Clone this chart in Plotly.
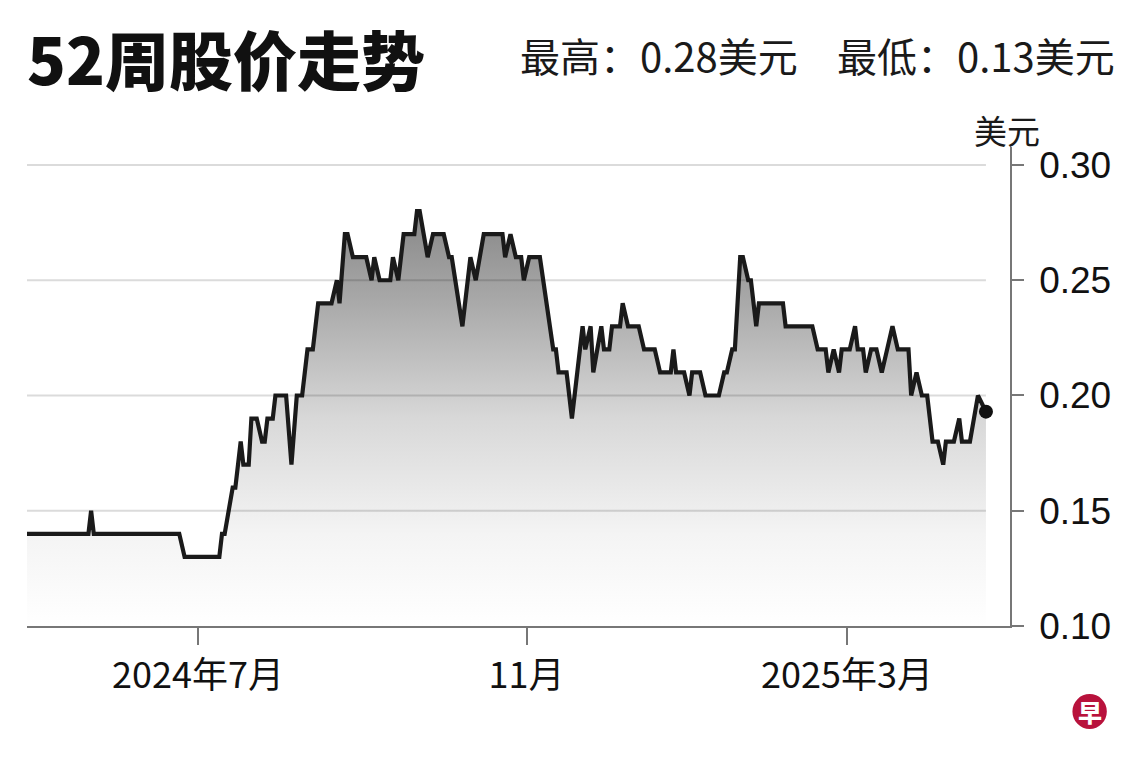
import plotly.graph_objects as go

# ---- data ----
dates = [
    "2024-04-28", "2024-05-21", "2024-05-22", "2024-05-23", "2024-06-24", "2024-06-26",
    "2024-07-09", "2024-07-10", "2024-07-11", "2024-07-14", "2024-07-15", "2024-07-17",
    "2024-07-18", "2024-07-20", "2024-07-21", "2024-07-23", "2024-07-25", "2024-07-26",
    "2024-07-27", "2024-07-29", "2024-07-30", "2024-08-03", "2024-08-05", "2024-08-07",
    "2024-08-09", "2024-08-11", "2024-08-13", "2024-08-15", "2024-08-20", "2024-08-22",
    "2024-08-23", "2024-08-25", "2024-08-26", "2024-08-28", "2024-09-02", "2024-09-04",
    "2024-09-05", "2024-09-07", "2024-09-11", "2024-09-12", "2024-09-14", "2024-09-16",
    "2024-09-20", "2024-09-21", "2024-09-22", "2024-09-25", "2024-09-27", "2024-10-01",
    "2024-10-03", "2024-10-04", "2024-10-08", "2024-10-11", "2024-10-13", "2024-10-16",
    "2024-10-23", "2024-10-24", "2024-10-26", "2024-10-28", "2024-10-30", "2024-10-31",
    "2024-11-02", "2024-11-06", "2024-11-11", "2024-11-12", "2024-11-13", "2024-11-16",
    "2024-11-18", "2024-11-22", "2024-11-23", "2024-11-25", "2024-11-26", "2024-11-29",
    "2024-11-30", "2024-12-02", "2024-12-03", "2024-12-06", "2024-12-07", "2024-12-09",
    "2024-12-13", "2024-12-15", "2024-12-19", "2024-12-21", "2024-12-25", "2024-12-26",
    "2024-12-27", "2024-12-30", "2025-01-01", "2025-01-02", "2025-01-05", "2025-01-07",
    "2025-01-12", "2025-01-14", "2025-01-15", "2025-01-17", "2025-01-18", "2025-01-20",
    "2025-01-21", "2025-01-23", "2025-01-24", "2025-01-26", "2025-01-27", "2025-02-05",
    "2025-02-06", "2025-02-16", "2025-02-18", "2025-02-21", "2025-02-22", "2025-02-24",
    "2025-02-26", "2025-02-27", "2025-03-02", "2025-03-04", "2025-03-05", "2025-03-07",
    "2025-03-08", "2025-03-10", "2025-03-12", "2025-03-14", "2025-03-16", "2025-03-18",
    "2025-03-20", "2025-03-24", "2025-03-25", "2025-03-27", "2025-03-29", "2025-03-31",
    "2025-04-02", "2025-04-04", "2025-04-06", "2025-04-07", "2025-04-10", "2025-04-12",
    "2025-04-13", "2025-04-16", "2025-04-19", "2025-04-22",
]
prices = [
    0.14, 0.14, 0.15, 0.14, 0.14, 0.13,
    0.13, 0.14, 0.14, 0.16, 0.16, 0.18,
    0.17, 0.17, 0.19, 0.19, 0.18, 0.18,
    0.19, 0.19, 0.20, 0.20, 0.17, 0.20,
    0.20, 0.22, 0.22, 0.24, 0.24, 0.25,
    0.24, 0.27, 0.27, 0.26, 0.26, 0.25,
    0.26, 0.25, 0.25, 0.26, 0.25, 0.27,
    0.27, 0.28, 0.28, 0.26, 0.27, 0.27,
    0.26, 0.26, 0.23, 0.26, 0.25, 0.27,
    0.27, 0.26, 0.27, 0.26, 0.26, 0.25,
    0.26, 0.26, 0.22, 0.22, 0.21, 0.21,
    0.19, 0.23, 0.22, 0.23, 0.21, 0.23,
    0.22, 0.22, 0.23, 0.23, 0.24, 0.23,
    0.23, 0.22, 0.22, 0.21, 0.21, 0.22,
    0.21, 0.21, 0.20, 0.21, 0.21, 0.20,
    0.20, 0.21, 0.21, 0.22, 0.22, 0.26,
    0.26, 0.25, 0.25, 0.23, 0.24, 0.24,
    0.23, 0.23, 0.22, 0.22, 0.21, 0.22,
    0.21, 0.22, 0.22, 0.23, 0.22, 0.22,
    0.21, 0.22, 0.22, 0.21, 0.22, 0.23,
    0.22, 0.22, 0.20, 0.21, 0.20, 0.20,
    0.18, 0.18, 0.17, 0.18, 0.18, 0.19,
    0.18, 0.18, 0.20, 0.193,
]

title_text = "52周股价走势"
high_text = "最高：0.28美元"
low_text = "最低：0.13美元"
unit_text = "美元"

x_tick_vals = ["2024-07-01", "2024-11-01", "2025-03-01"]
x_tick_text = ["2024年7月", "11月", "2025年3月"]
y_tick_vals = [0.10, 0.15, 0.20, 0.25, 0.30]
y_tick_text = ["0.10", "0.15", "0.20", "0.25", "0.30"]
grid_vals = [0.15, 0.20, 0.25, 0.30]

x_range = ["2024-04-28", "2025-05-01"]
y_range = [0.10, 0.3078]

CJK = "Noto Sans CJK SC"
NUM = "Liberation Sans, Arial, Noto Sans CJK SC"

fig = go.Figure()

fig.add_trace(go.Scatter(
    x=dates, y=prices, mode="lines",
    line=dict(color="#1a1a1a", width=4.2, shape="linear"),
    fill="tozeroy",
    fillgradient=dict(
        type="vertical",
        start=0.10, stop=0.28,
        colorscale=[
            [0.0, "#ffffff"],
            [0.22, "#f4f4f4"],
            [0.50, "#d8d8d8"],
            [0.78, "#a9a9a9"],
            [1.0, "#878787"],
        ],
    ),
    hoverinfo="skip", showlegend=False,
))

fig.add_trace(go.Scatter(
    x=[dates[-1]], y=[prices[-1]], mode="markers",
    marker=dict(color="#111111", size=14),
    hoverinfo="skip", showlegend=False,
))

shapes = []
for g in grid_vals:
    shapes.append(dict(
        type="line", xref="x", yref="y",
        x0=x_range[0], x1=dates[-1], y0=g, y1=g,
        line=dict(color="rgba(0,0,0,0.14)", width=2),
        layer="above",
    ))

# logo circle
shapes.append(dict(
    type="circle", xref="paper", yref="paper",
    x0=1.0635, x1=1.0985, y0=-0.2150, y1=-0.1420,
    fillcolor="#b8123c", line=dict(width=0),
))

annotations = [
    dict(text=title_text, xref="paper", yref="paper", x=-0.001, y=1.187,
         xanchor="left", yanchor="middle", showarrow=False, borderpad=0,
         font=dict(family=CJK, size=64, color="#111111", weight=900)),
    dict(text=high_text, xref="paper", yref="paper", x=0.4995, y=1.192,
         xanchor="left", yanchor="middle", showarrow=False,
         font=dict(family=CJK, size=40, color="#1a1a1a")),
    dict(text=low_text, xref="paper", yref="paper", x=0.822, y=1.192,
         xanchor="left", yanchor="middle", showarrow=False,
         font=dict(family=CJK, size=40, color="#1a1a1a")),
    dict(text=unit_text, xref="paper", yref="paper", x=0.997, y=1.035,
         xanchor="center", yanchor="middle", showarrow=False,
         font=dict(family=CJK, size=33, color="#1a1a1a")),
    dict(text="早", xref="paper", yref="paper", x=1.081, y=-0.1785,
         xanchor="center", yanchor="middle", showarrow=False,
         font=dict(family=CJK, size=24, color="#ffffff", weight=900)),
]

fig.update_layout(
    width=1140, height=760,
    margin=dict(l=19, r=138, t=139, b=142, autoexpand=False),
    paper_bgcolor="white", plot_bgcolor="white",
    showlegend=False,
    shapes=shapes,
    annotations=annotations,
    xaxis=dict(
        type="date", range=x_range,
        tickvals=x_tick_vals, ticktext=x_tick_text,
        showgrid=False, zeroline=False,
        showline=True, linecolor="#777777", linewidth=1.5,
        ticks="outside", ticklen=17, tickwidth=1.5, tickcolor="#777777",
        tickfont=dict(family=CJK, size=36, color="#111111"),
        fixedrange=True,
    ),
    yaxis=dict(
        range=y_range, side="right",
        tickvals=y_tick_vals, ticktext=y_tick_text,
        showgrid=False, zeroline=False,
        showline=True, linecolor="#777777", linewidth=1.5,
        ticks="outside", ticklen=12, tickwidth=1.5, tickcolor="#777777",
        ticklabelstandoff=8,
        tickfont=dict(family=NUM, size=37, color="#111111"),
        fixedrange=True,
    ),
)

fig.write_html("out.html")
